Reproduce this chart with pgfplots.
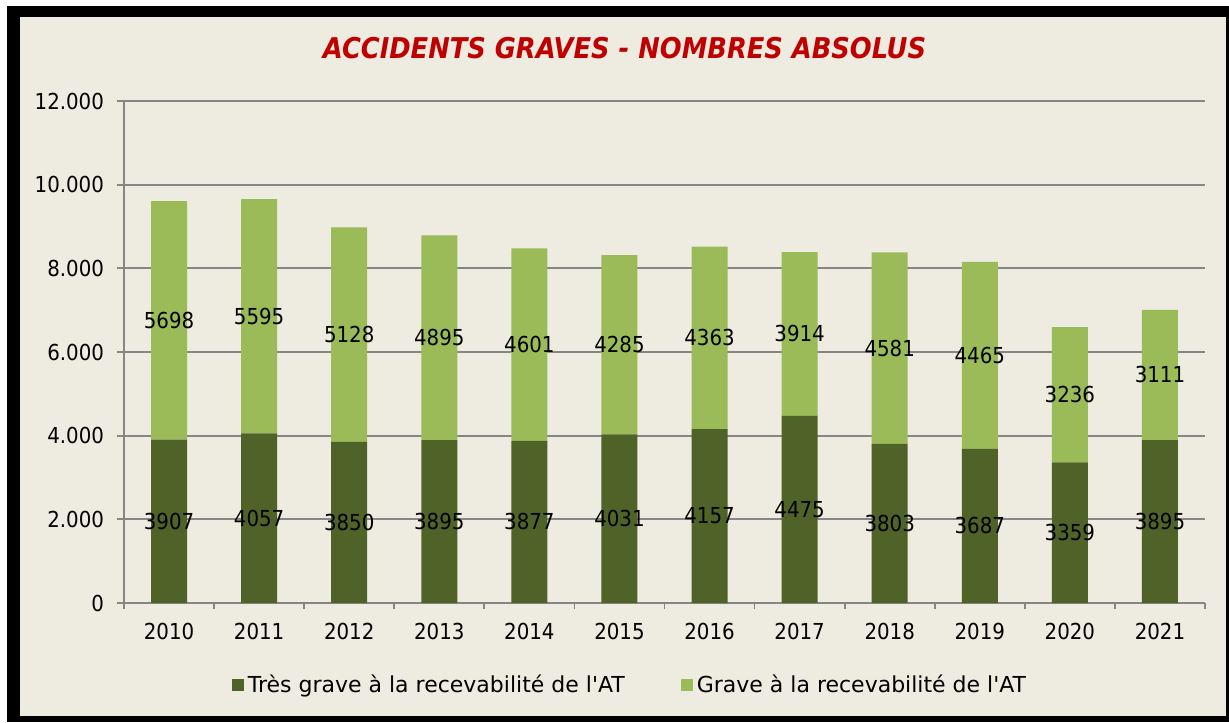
\documentclass[border=0pt]{standalone}
\usepackage{pgfplots}
\pgfplotsset{compat=1.18}
\usepackage{pgfplotstable}
\usepackage{fontspec}
\setmainfont{DejaVu Sans Condensed}
\newfontfamily\legfont{DejaVu Sans}
\definecolor{bg}{HTML}{EEEBE0}
\definecolor{darkg}{HTML}{4F6228}
\definecolor{lightg}{HTML}{9BBB59}
\definecolor{gridg}{HTML}{868686}
\definecolor{titlered}{HTML}{C00000}
\pgfplotstableread{
idx year dark light
0 2010 3907 5698
1 2011 4057 5595
2 2012 3850 5128
3 2013 3895 4895
4 2014 3877 4601
5 2015 4031 4285
6 2016 4157 4363
7 2017 4475 3914
8 2018 3803 4581
9 2019 3687 4465
10 2020 3359 3236
11 2021 3895 3111
}\data
\begin{document}
\begin{tikzpicture}[x=0.5pt,y=0.5pt]
\fill[white] (0,0) rectangle (1229,722);
\fill[black] (7,0) rectangle (1229,716);
\fill[bg] (20,6) rectangle (1226,705);
\node[font=\fontsize{14.3}{17}\selectfont\bfseries\itshape, text=titlered] at (624.5,674) {ACCIDENTS GRAVES - NOMBRES ABSOLUS};
\pgfplotsset{commonax/.style={
  at={(62pt,59.5pt)}, anchor=south west, width=540.5pt, height=251pt, scale only axis,
  xmin=-0.5, xmax=11.5, ymin=0, ymax=12000}}
\begin{axis}[commonax,
  ybar stacked, bar width=18pt,
  axis x line*=bottom, axis y line*=left,
  axis line style={gridg, line width=0.9pt},
  ymajorgrids, grid style={gridg, line width=0.9pt},
  ytick={0,2000,...,12000},
  xtick={0,...,11},
  xticklabels from table={\data}{year},
  minor xtick={-0.5,0.5,...,11.5},
  every major x tick/.append style={draw=none},
  tick align=outside, major tick length=3.5pt, minor tick length=3pt,
  tick style={gridg, line width=0.9pt},
  tick label style={font=\fontsize{11}{13}\selectfont},
  xticklabel style={yshift=-3pt},
  yticklabel style={xshift=-3pt},
  scaled y ticks=false,
  /pgf/number format/1000 sep={.},
  /pgf/number format/assume math mode=true,
  legend style={at={(0.469,-0.163)}, anchor=center, draw=none, fill=none,
    legend columns=2, font=\legfont\fontsize{11}{13}\selectfont,
    /tikz/every even column/.append style={column sep=26pt}},
  legend image code/.code={\fill[#1] (0pt,-3pt) rectangle (6pt,3pt);},
]
\addplot[fill=darkg, draw=none] table[x=idx, y=dark] {\data};
\addlegendentry{Très grave à la recevabilité de l\textquotesingle AT}
\addplot[fill=lightg, draw=none] table[x=idx, y=light] {\data};
\addlegendentry{Grave à la recevabilité de l\textquotesingle AT}
\end{axis}
\begin{axis}[commonax, hide axis]
\addplot[draw=none, mark=none, nodes near coords, point meta=explicit symbolic,
  every node near coord/.append style={anchor=center, font=\fontsize{11}{13}\selectfont, text=black}]
  table[x=idx, y expr=\thisrow{dark}/2, meta=dark] {\data};
\addplot[draw=none, mark=none, nodes near coords, point meta=explicit symbolic,
  every node near coord/.append style={anchor=center, font=\fontsize{11}{13}\selectfont, text=black}]
  table[x=idx, y expr=\thisrow{dark}+\thisrow{light}/2, meta=light] {\data};
\end{axis}
\end{tikzpicture}
\end{document}
